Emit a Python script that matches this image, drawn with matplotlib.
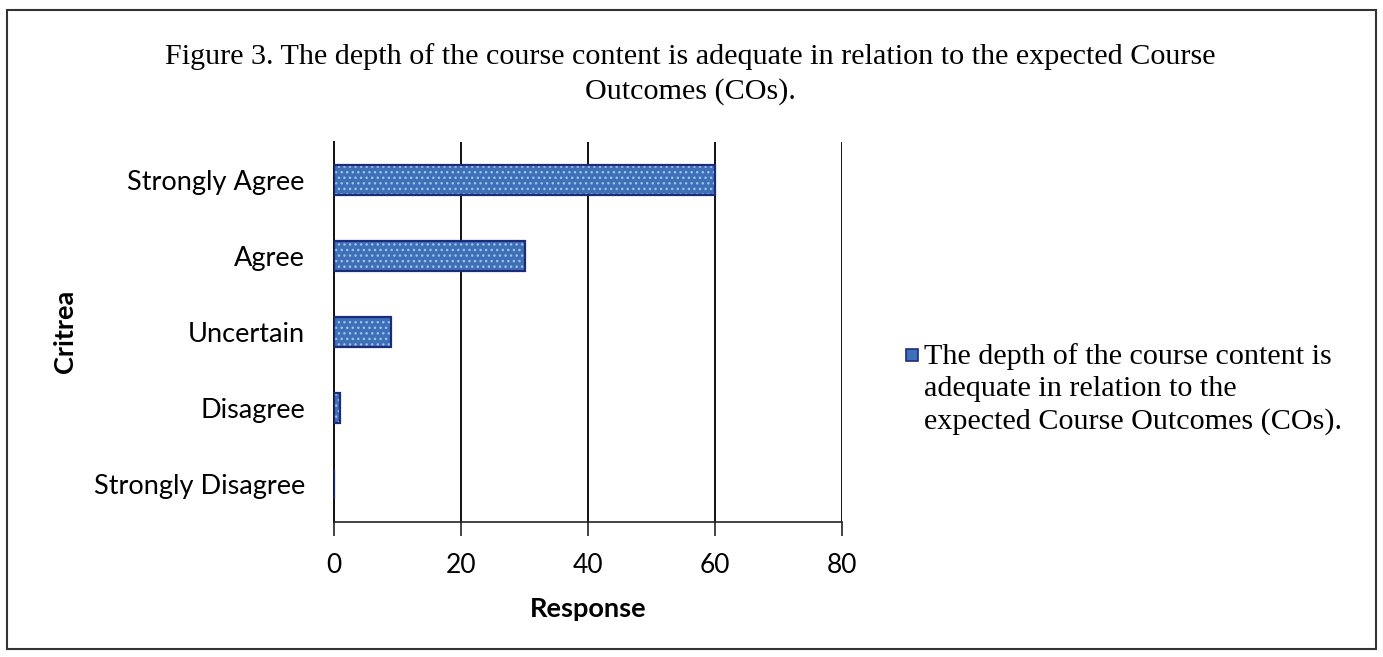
import matplotlib
matplotlib.use("Agg")
import matplotlib.pyplot as plt
from matplotlib.patches import Rectangle

categories = ["Strongly Disagree", "Disagree", "Uncertain", "Agree", "Strongly Agree"]
values = [0, 1, 9, 30, 60]
x_ticks = [0, 20, 40, 60, 80]
series_label = "The depth of the course content is\nadequate in relation to the\nexpected Course Outcomes (COs)."
title_text = ("Figure 3. The depth of the course content is adequate in relation to the expected Course\n"
              "Outcomes (COs).")

bar_color = "#3f6fb6"
speckle_color = "#9cc3ea"
edge_color = "#1c2c7c"
sans = ["Lato", "DejaVu Sans"]
serif = ["Liberation Serif", "DejaVu Serif"]

W, H = 1383, 657
fig = plt.figure(figsize=(W / 100, H / 100), dpi=100)
fig.patch.set_facecolor("white")

ax = fig.add_axes([334 / W, 1 - 522 / H, (842 - 334) / W, (522 - 142) / H])
ypos = list(range(len(categories)))
ax.barh(ypos, values, height=0.4, color=bar_color, edgecolor=speckle_color, hatch="...",
        linewidth=0, zorder=3)
ax.barh(ypos, values, height=0.4, color="none", edgecolor=edge_color, linewidth=1.6, zorder=4)

ax.set_xlim(0, 80)
ax.set_ylim(-0.5, len(categories) - 0.5)
ax.set_xticks(x_ticks)
ax.set_xticklabels([str(t) for t in x_ticks], fontfamily=sans, fontsize=19)
ax.set_yticks(ypos)
ax.set_yticklabels(categories, fontfamily=sans, fontsize=19.5)
ax.tick_params(axis="y", length=0, pad=21)
ax.tick_params(axis="x", length=10, width=1.2, color="#222222", pad=12, direction="out")
ax.grid(axis="x", color="#111111", linewidth=1.4, zorder=0)
for s in ["top", "right"]:
    ax.spines[s].set_visible(False)
ax.spines["left"].set_color("#111111")
ax.spines["left"].set_linewidth(1.4)
ax.spines["bottom"].set_color("#222222")
ax.spines["bottom"].set_linewidth(1.2)

ax.set_xlabel("Response", fontfamily=sans, fontsize=19.5, fontweight="bold", labelpad=14)
fig.text(65 / W, 1 - 331 / H, "Critrea", fontfamily=sans, fontsize=19.5, fontweight="bold",
         rotation=90, ha="center", va="center")

fig.text(690 / W, 1 - 74 / H, title_text, fontfamily=serif, fontsize=21.7, ha="center", va="center",
         linespacing=1.42)

# legend
fig.patches.append(Rectangle((906 / W, 1 - 361 / H), 12 / W, 12 / H, transform=fig.transFigure,
                             facecolor=bar_color, edgecolor=edge_color, linewidth=1.2))
fig.text(924 / W, 1 - 343 / H, series_label, fontfamily=serif, fontsize=21.7, ha="left", va="top",
         linespacing=1.3)

# outer frame
fig.patches.append(Rectangle((7 / W, 8 / H), (1376 - 7) / W, (647 - 8) / H, transform=fig.transFigure,
                             facecolor="none", edgecolor="#333333", linewidth=1.5))

fig.savefig("out.png", dpi=100)
